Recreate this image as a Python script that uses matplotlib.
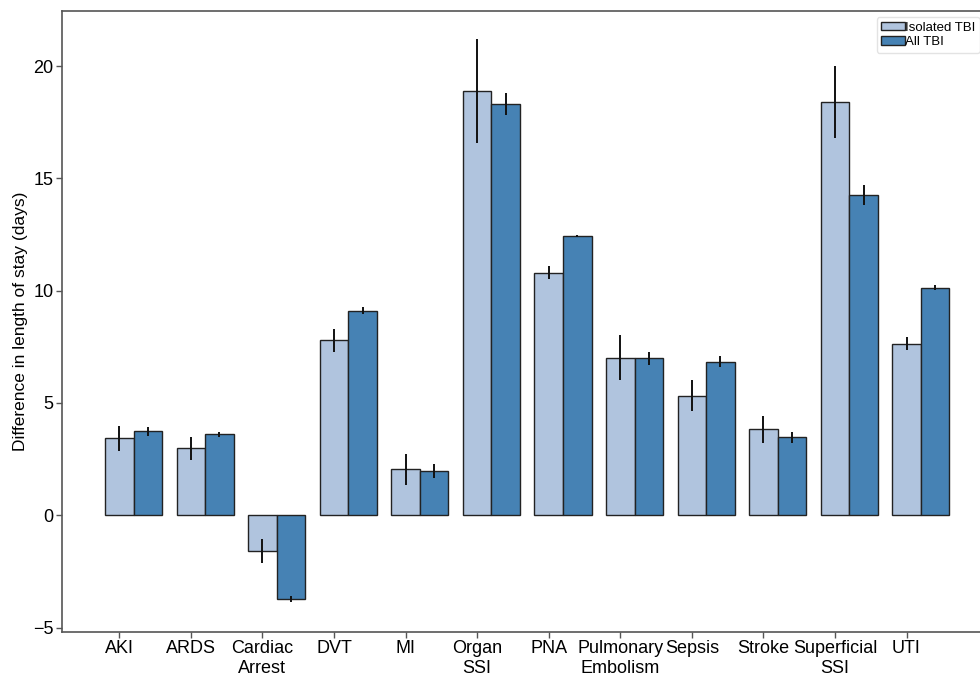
import matplotlib
matplotlib.use("Agg")
import matplotlib.pyplot as plt
import numpy as np

plt.rcParams['font.family'] = ['Liberation Sans', 'DejaVu Sans']

# complication categories
categories = ["AKI", "ARDS", "Cardiac\nArrest", "DVT", "MI", "Organ\nSSI", "PNA",
              "Pulmonary\nEmbolism", "Sepsis", "Stroke", "Superficial\nSSI", "UTI"]

# difference in length of stay (days)
isolated_tbi = [3.42, 2.98, -1.6, 7.78, 2.04, 18.89, 10.8, 7.02, 5.33, 3.82, 18.4, 7.64]
isolated_err = [0.55, 0.5, 0.55, 0.5, 0.7, 2.3, 0.3, 1.0, 0.7, 0.6, 1.6, 0.3]
all_tbi = [3.73, 3.6, -3.73, 9.11, 1.96, 18.31, 12.44, 6.98, 6.84, 3.47, 14.27, 10.13]
all_err = [0.2, 0.1, 0.15, 0.15, 0.3, 0.5, 0.05, 0.3, 0.25, 0.25, 0.45, 0.1]

fig = plt.figure(figsize=(9.8, 6.8), dpi=100)
# axes runs off the right edge, like the original crop
ax = fig.add_axes([62 / 980, 48 / 680, 1.02 - 62 / 980, (632 - 11) / 680])

x = np.arange(len(categories))
w = 0.4
ax.bar(x, isolated_tbi, w, color="#b0c4de", edgecolor="#222222", linewidth=1.0,
       label="Isolated TBI", zorder=2)
ax.bar(x + w, all_tbi, w, color="#4682b4", edgecolor="#222222", linewidth=1.0,
       label="All TBI", zorder=2)
ax.errorbar(x, isolated_tbi, yerr=isolated_err, fmt="none", ecolor="#111111",
            elinewidth=1.4, capsize=0, zorder=3)
ax.errorbar(x + w, all_tbi, yerr=all_err, fmt="none", ecolor="#111111",
            elinewidth=1.4, capsize=0, zorder=3)

ax.set_xlim(-0.8, 12.3)
ax.set_ylim(-5.2, 22.45)
ax.set_xticks(x)
ax.set_xticklabels(categories, fontsize=13)
ax.set_yticks([-5, 0, 5, 10, 15, 20])
ax.set_yticklabels(["\u22125", "0", "5", "10", "15", "20"], fontsize=13)
ax.tick_params(length=4, width=1, color="#555555", pad=2)
ax.set_ylabel("Difference in length of stay (days)", fontsize=12.5)

for s in ax.spines.values():
    s.set_color("#555555")
    s.set_linewidth(1.2)

fig.legend(loc="upper right", bbox_to_anchor=(0.9995, (680 - 17) / 680),
           fontsize=9.5, frameon=True, handlelength=1.75, handleheight=0.65,
           handletextpad=0.0, borderpad=0.35, borderaxespad=0.0,
           labelspacing=0.2, edgecolor="#dddddd", fancybox=True)

fig.savefig("out.png", dpi=100)
